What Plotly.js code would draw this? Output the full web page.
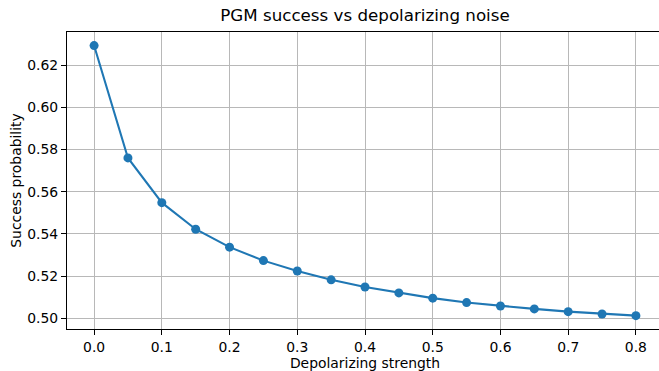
<!DOCTYPE html>
<html>
<head>
<meta charset="utf-8">
<script src="https://cdn.plot.ly/plotly-3.0.1.min.js"></script>
<style>
html, body { margin: 0; padding: 0; overflow: hidden; background: #fff; }
#chart { width: 663px; height: 371px; }
</style>
</head>
<body>
<div id="chart"></div>
<script>
const strength = [0.0, 0.05, 0.1, 0.15, 0.2, 0.25, 0.3, 0.35, 0.4, 0.45, 0.5, 0.55, 0.6, 0.65, 0.7, 0.75, 0.8];
const success = [0.6293, 0.5760, 0.5548, 0.5422, 0.5337, 0.5273, 0.5224, 0.5182, 0.5148, 0.5120, 0.5095, 0.5074, 0.5058, 0.5044, 0.5031, 0.5020, 0.5012];
const xTicks = [0.0, 0.1, 0.2, 0.3, 0.4, 0.5, 0.6, 0.7, 0.8];
const xTickText = ["0.0", "0.1", "0.2", "0.3", "0.4", "0.5", "0.6", "0.7", "0.8"];
const yTicks = [0.50, 0.52, 0.54, 0.56, 0.58, 0.60, 0.62];
const yTickText = ["0.50", "0.52", "0.54", "0.56", "0.58", "0.60", "0.62"];

const font = {family: "DejaVu Sans", size: 13.9, color: "#000"};

const trace = {
  x: strength,
  y: success,
  type: "scatter",
  mode: "lines+markers",
  line: {color: "#1f77b4", width: 2.08},
  marker: {color: "#1f77b4", size: 9},
  hoverinfo: "skip"
};

const axisCommon = {
  showgrid: true,
  gridcolor: "#b8b8b8",
  gridwidth: 1,
  zeroline: false,
  showline: true,
  linecolor: "#000",
  linewidth: 1,
  mirror: true,
  ticks: "outside",
  ticklen: 5,
  tickwidth: 1,
  tickcolor: "#000",
  tickfont: font,
  automargin: false
};

const layout = {
  width: 663,
  height: 371,
  margin: {l: 67, r: 0, t: 32, b: 42},
  paper_bgcolor: "#fff",
  plot_bgcolor: "#fff",
  showlegend: false,
  font: font,
  title: {
    text: "PGM success vs depolarizing noise",
    font: {family: "DejaVu Sans", size: 16.7, color: "#000"},
    x: 0.5,
    xanchor: "center",
    xref: "paper",
    y: 0.958,
    yanchor: "middle"
  },
  xaxis: Object.assign({}, axisCommon, {
    range: [-0.04, 0.84],
    tickmode: "array",
    tickvals: xTicks,
    ticktext: xTickText,
    title: {text: "Depolarizing strength", font: font, standoff: 4}
  }),
  yaxis: Object.assign({}, axisCommon, {
    range: [0.49487, 0.63573],
    tickmode: "array",
    tickvals: yTicks,
    ticktext: yTickText,
    title: {text: "Success probability", font: font, standoff: 2}
  })
};

Plotly.newPlot("chart", [trace], layout, {staticPlot: true, displayModeBar: false});
</script>
</body>
</html>
